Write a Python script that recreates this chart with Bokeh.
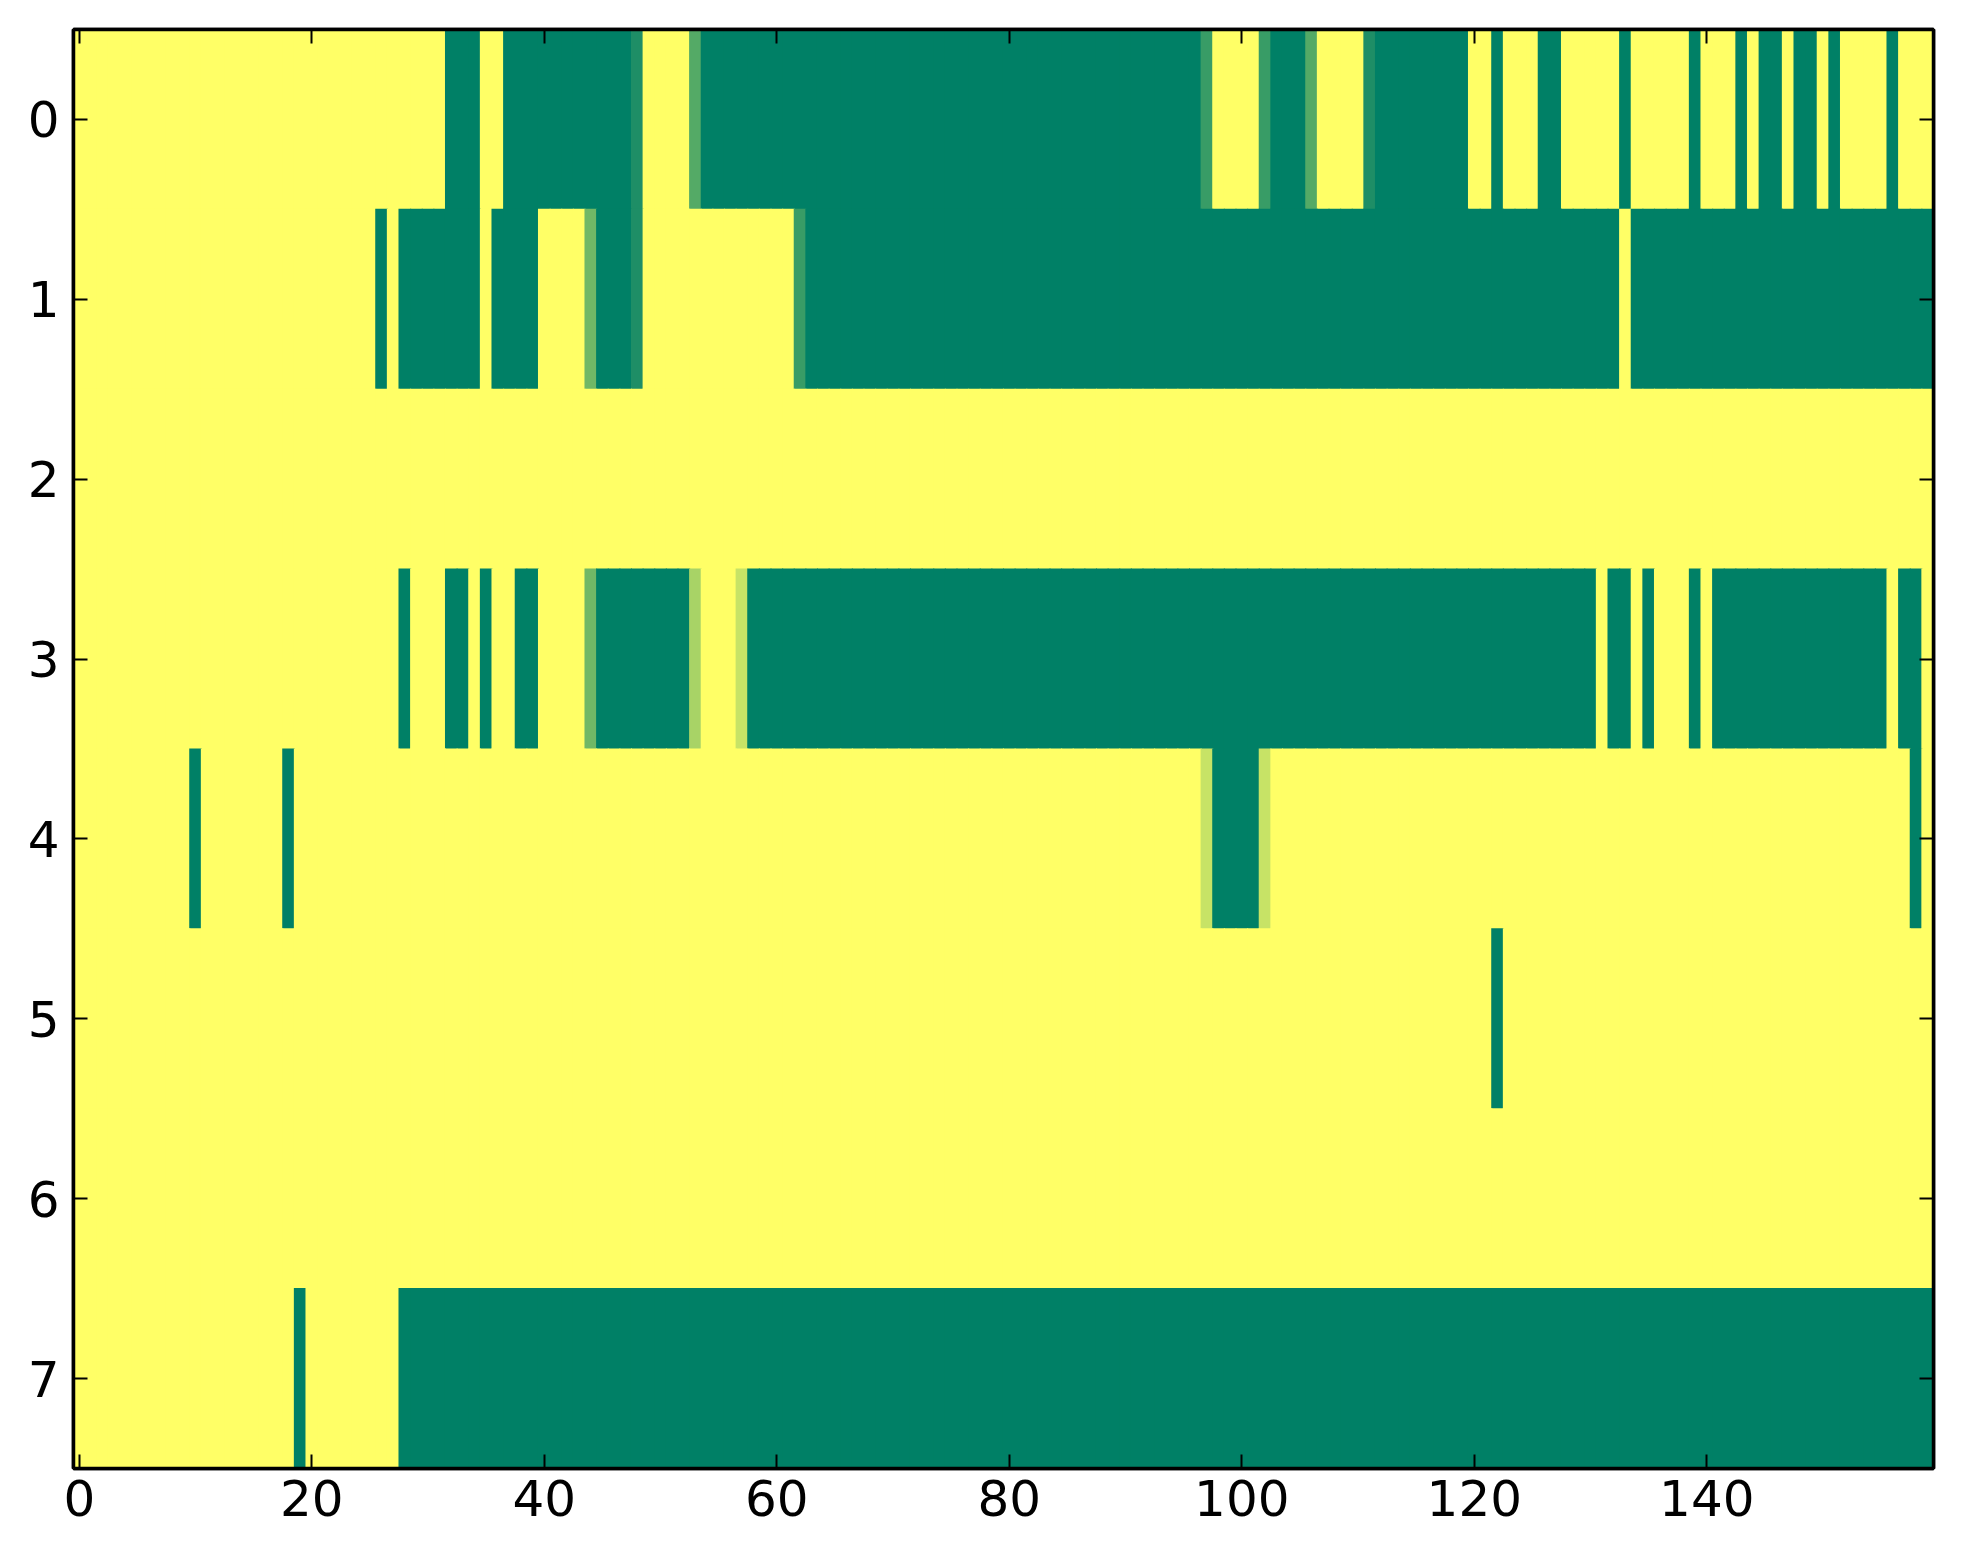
from bokeh.plotting import figure
from bokeh.models import Range1d, FixedTicker, LinearAxis, ColumnDataSource
from bokeh.transform import linear_cmap
from bokeh.embed import file_html
from bokeh.resources import INLINE

# ---- data: 8 rows x 160 columns (values 0..1) ----
row0 = [1,1,1,1,1,1,1,1,1,1,1,1,1,1,1,1,1,1,1,1,
        1,1,1,1,1,1,1,1,1,1,1,1,0,0,0,1,1,0,0,0,
        0,0,0,0,0,0,0,0,.12,1,1,1,1,.33,0,0,0,0,0,0,
        0,0,0,0,0,0,0,0,0,0,0,0,0,0,0,0,0,0,0,0,
        0,0,0,0,0,0,0,0,0,0,0,0,0,0,0,0,0,.22,1,1,
        1,1,.22,0,0,0,.33,1,1,1,1,.12,0,0,0,0,0,0,0,0,
        1,1,0,1,1,1,0,0,1,1,1,1,1,0,1,1,1,1,1,0,
        1,1,1,0,1,0,0,1,0,0,1,0,1,1,1,1,0,1,1,1]
row1 = [1,1,1,1,1,1,1,1,1,1,1,1,1,1,1,1,1,1,1,1,
        1,1,1,1,1,1,0,1,0,0,0,0,0,0,0,1,0,0,0,0,
        1,1,1,1,.44,0,0,0,.12,1,1,1,1,1,1,1,1,1,1,1,
        1,1,.22,0,0,0,0,0,0,0,0,0,0,0,0,0,0,0,0,0,
        0,0,0,0,0,0,0,0,0,0,0,0,0,0,0,0,0,0,0,0,
        0,0,0,0,0,0,0,0,0,0,0,0,0,0,0,0,0,0,0,0,
        0,0,0,0,0,0,0,0,0,0,0,0,0,1,0,0,0,0,0,0,
        0,0,0,0,0,0,0,0,0,0,0,0,0,0,0,0,0,0,0,0]
row2 = [1,1,1,1,1,1,1,1,1,1,1,1,1,1,1,1,1,1,1,1,
        1,1,1,1,1,1,1,1,1,1,1,1,1,1,1,1,1,1,1,1,
        1,1,1,1,1,1,1,1,1,1,1,1,1,1,1,1,1,1,1,1,
        1,1,1,1,1,1,1,1,1,1,1,1,1,1,1,1,1,1,1,1,
        1,1,1,1,1,1,1,1,1,1,1,1,1,1,1,1,1,1,1,1,
        1,1,1,1,1,1,1,1,1,1,1,1,1,1,1,1,1,1,1,1,
        1,1,1,1,1,1,1,1,1,1,1,1,1,1,1,1,1,1,1,1,
        1,1,1,1,1,1,1,1,1,1,1,1,1,1,1,1,1,1,1,1]
row3 = [1,1,1,1,1,1,1,1,1,1,1,1,1,1,1,1,1,1,1,1,
        1,1,1,1,1,1,1,1,0,1,1,1,0,0,1,0,1,1,0,0,
        1,1,1,1,.44,0,0,0,0,0,0,0,0,.66,1,1,1,.78,0,0,
        0,0,0,0,0,0,0,0,0,0,0,0,0,0,0,0,0,0,0,0,
        0,0,0,0,0,0,0,0,0,0,0,0,0,0,0,0,0,0,0,0,
        0,0,0,0,0,0,0,0,0,0,0,0,0,0,0,0,0,0,0,0,
        0,0,0,0,0,0,0,0,0,0,0,1,0,0,1,0,1,1,1,0,
        1,0,0,0,0,0,0,0,0,0,0,0,0,0,0,0,1,0,0,1]
row4 = [1,1,1,1,1,1,1,1,1,1,0,1,1,1,1,1,1,1,0,1,
        1,1,1,1,1,1,1,1,1,1,1,1,1,1,1,1,1,1,1,1,
        1,1,1,1,1,1,1,1,1,1,1,1,1,1,1,1,1,1,1,1,
        1,1,1,1,1,1,1,1,1,1,1,1,1,1,1,1,1,1,1,1,
        1,1,1,1,1,1,1,1,1,1,1,1,1,1,1,1,1,.78,0,0,
        0,0,.78,1,1,1,1,1,1,1,1,1,1,1,1,1,1,1,1,1,
        1,1,1,1,1,1,1,1,1,1,1,1,1,1,1,1,1,1,1,1,
        1,1,1,1,1,1,1,1,1,1,1,1,1,1,1,1,1,1,0,1]
row5 = [1,1,1,1,1,1,1,1,1,1,1,1,1,1,1,1,1,1,1,1,
        1,1,1,1,1,1,1,1,1,1,1,1,1,1,1,1,1,1,1,1,
        1,1,1,1,1,1,1,1,1,1,1,1,1,1,1,1,1,1,1,1,
        1,1,1,1,1,1,1,1,1,1,1,1,1,1,1,1,1,1,1,1,
        1,1,1,1,1,1,1,1,1,1,1,1,1,1,1,1,1,1,1,1,
        1,1,1,1,1,1,1,1,1,1,1,1,1,1,1,1,1,1,1,1,
        1,1,0,1,1,1,1,1,1,1,1,1,1,1,1,1,1,1,1,1,
        1,1,1,1,1,1,1,1,1,1,1,1,1,1,1,1,1,1,1,1]
row6 = [1,1,1,1,1,1,1,1,1,1,1,1,1,1,1,1,1,1,1,1,
        1,1,1,1,1,1,1,1,1,1,1,1,1,1,1,1,1,1,1,1,
        1,1,1,1,1,1,1,1,1,1,1,1,1,1,1,1,1,1,1,1,
        1,1,1,1,1,1,1,1,1,1,1,1,1,1,1,1,1,1,1,1,
        1,1,1,1,1,1,1,1,1,1,1,1,1,1,1,1,1,1,1,1,
        1,1,1,1,1,1,1,1,1,1,1,1,1,1,1,1,1,1,1,1,
        1,1,1,1,1,1,1,1,1,1,1,1,1,1,1,1,1,1,1,1,
        1,1,1,1,1,1,1,1,1,1,1,1,1,1,1,1,1,1,1,1]
row7 = [1,1,1,1,1,1,1,1,1,1,1,1,1,1,1,1,1,1,1,0,
        1,1,1,1,1,1,1,1,0,0,0,0,0,0,0,0,0,0,0,0,
        0,0,0,0,0,0,0,0,0,0,0,0,0,0,0,0,0,0,0,0,
        0,0,0,0,0,0,0,0,0,0,0,0,0,0,0,0,0,0,0,0,
        0,0,0,0,0,0,0,0,0,0,0,0,0,0,0,0,0,0,0,0,
        0,0,0,0,0,0,0,0,0,0,0,0,0,0,0,0,0,0,0,0,
        0,0,0,0,0,0,0,0,0,0,0,0,0,0,0,0,0,0,0,0,
        0,0,0,0,0,0,0,0,0,0,0,0,0,0,0,0,0,0,0,0]
rows = [row0, row1, row2, row3, row4, row5, row6, row7]

x_ticks = [0, 20, 40, 60, 80, 100, 120, 140]
y_ticks = [0, 1, 2, 3, 4, 5, 6, 7]

# matplotlib "summer" colormap
palette = []
for i in range(256):
    t = i / 255.0
    palette.append("#%02x%02x%02x" % (int(round(255 * t)),
                                      int(round(255 * (0.5 + 0.5 * t))),
                                      int(round(255 * 0.4))))

xs, ys, vs = [], [], []
for r, row in enumerate(rows):
    for c, v in enumerate(row):
        xs.append(c)
        ys.append(r)
        vs.append(float(v))
src = ColumnDataSource(dict(x=xs, y=ys, v=vs))

ncols = len(row0)
nrows = len(rows)

p = figure(frame_width=1860, frame_height=1439,
           x_range=Range1d(-0.5, ncols - 0.5), y_range=Range1d(nrows - 0.5, -0.5),
           output_backend="svg", toolbar_location=None,
           min_border_left=73, min_border_top=29, min_border_right=20, min_border_bottom=70,
           background_fill_color="white", border_fill_color="white")

cmap = linear_cmap("v", palette, 0, 1)
# cells slightly overlap (about 1 px) so no anti-aliasing seams appear
p.rect(x="x", y="y", width=1.09, height=1.006, source=src,
       fill_color=cmap, line_color=None)

p.grid.visible = False
p.outline_line_color = "black"
p.outline_line_width = 3.5


def style_axis(ax):
    ax.major_tick_in = 14
    ax.major_tick_out = 0
    ax.minor_tick_in = 0
    ax.minor_tick_out = 0
    ax.major_tick_line_width = 2
    ax.major_tick_line_color = "black"
    ax.axis_line_color = "black"
    ax.axis_line_width = 3.5
    ax.major_label_text_font = "DejaVu Sans"
    ax.major_label_text_color = "black"
    ax.major_label_text_font_size = "50px"


p.xaxis.ticker = FixedTicker(ticks=x_ticks)
p.yaxis.ticker = FixedTicker(ticks=y_ticks)
for ax in p.xaxis:
    style_axis(ax)
    ax.major_label_standoff = 11
for ax in p.yaxis:
    style_axis(ax)
    ax.major_label_standoff = 14

top = LinearAxis(ticker=FixedTicker(ticks=x_ticks),
                 major_label_overrides={t: "" for t in x_ticks})
style_axis(top)
top.major_label_standoff = 0
p.add_layout(top, "above")
right = LinearAxis(ticker=FixedTicker(ticks=y_ticks),
                   major_label_overrides={t: "" for t in y_ticks})
style_axis(right)
right.major_label_standoff = 0
p.add_layout(right, "right")

open("out.html", "w").write(file_html(p, INLINE))
